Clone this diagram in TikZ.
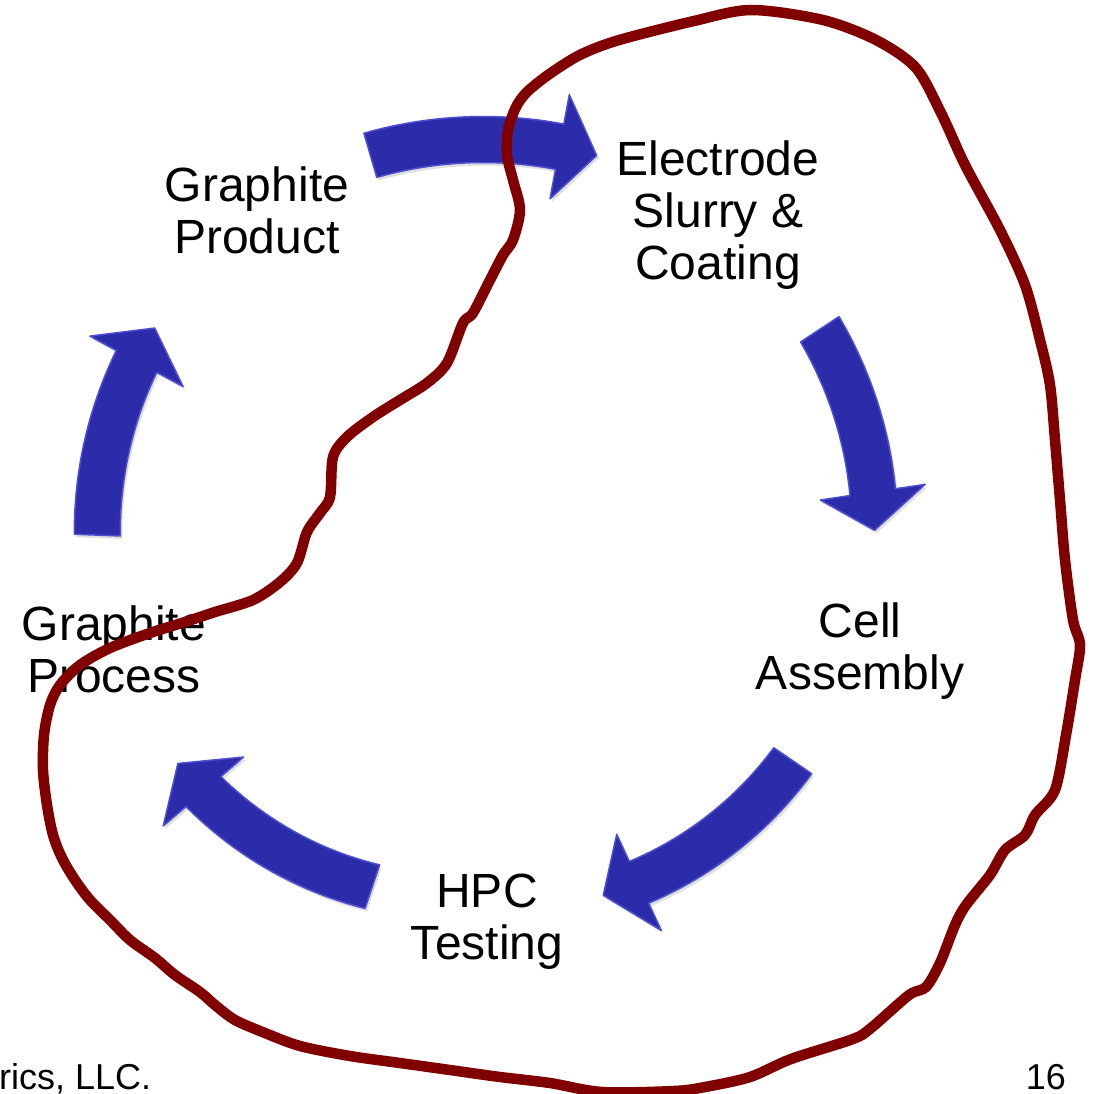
\documentclass[tikz,border=0pt]{standalone}
\usepackage{fontspec}
\setmainfont{Liberation Sans}
\usetikzlibrary{shadows}

\definecolor{arrowblue}{RGB}{44,44,170}
\definecolor{arrowrim}{RGB}{78,78,208}
\definecolor{loopred}{RGB}{128,0,0}

\tikzset{
	stagelabel/.style={align=center, font=\fontsize{48}{52}\selectfont, inner sep=0pt},
	footlabel/.style={font=\fontsize{36}{40}\selectfont, inner sep=0pt},
	ringarrow/.style={fill=arrowblue, draw=arrowrim, line width=1.5pt, line join=round,
		drop shadow={opacity=0.25, shadow xshift=2pt, shadow yshift=-3pt}},
	loopline/.style={draw=loopred, line width=10.5pt, line join=round, line cap=round}
}

% curved block arrow on the ring: tail angle, tip angle, tail radius, tip radius
\newcommand\cyclearrow[4]{%
	\pgfmathsetmacro\arrTa{#1}
	\pgfmathsetmacro\arrPa{#2}
	\pgfmathsetmacro\arrTr{#3}
	\pgfmathsetmacro\arrPr{#4}
	\pgfmathsetmacro\arrBa{\arrPa+38/\arrPr*180/pi}
	\pgfmathsetmacro\arrBr{\arrTr+(\arrPr-\arrTr)*(\arrBa-\arrTa)/(\arrPa-\arrTa)}
	\path[ringarrow]
		plot[domain=0:1, samples=24] ({\arrTa+(\arrBa-\arrTa)*\x}:{\arrTr+(\arrBr-\arrTr)*\x+23})
		-- (\arrBa:{\arrBr+53}) -- (\arrPa:\arrPr) -- (\arrBa:{\arrBr-53})
		-- plot[domain=0:1, samples=24] ({\arrBa+(\arrTa-\arrBa)*\x}:{\arrBr+(\arrTr-\arrBr)*\x-23})
		-- cycle;
}

\begin{document}
\begin{tikzpicture}[x=1pt, y=1pt]
	\useasboundingbox (0,0) rectangle (1094,-1094);
	\fill[white] (0,0) rectangle (1094,-1094);
	
	% stages
	\node[stagelabel] (product) at (257,-210) {Graphite\\Product};
	\node[stagelabel] (slurry) at (718,-215) {Electrode\\Slurry \&\\Coating};
	\node[stagelabel] (cell) at (860,-651) {Cell\\Assembly};
	\node[stagelabel] (testing) at (487,-922) {HPC\\Testing};
	\node[stagelabel] (process) at (114,-649) {Graphite\\Process};
	
	\node[footlabel, anchor=base west] (credit) at (-1,-1089) {rics, LLC.};
	\node[footlabel, anchor=base east] (pageno) at (1066,-1089) {16};
	
	% arrows round the cycle
	\begin{scope}[shift={(485,-550)}]
		\cyclearrow{106.2}{74.2}{411}{410}
		\cyclearrow{33.4}{2.9}{401}{390}
		\cyclearrow{-34.4}{-71.1}{373}{365}
		\cyclearrow{-108.5}{-145.2}{355}{374}
		\cyclearrow{177.8}{146.1}{388}{398}
	\end{scope}
	
	% hand drawn loop
	\draw[loopline] plot[smooth cycle, tension=0.5] coordinates {
		(751,-10) (823,-20) (876,-40) (916,-68) (942,-115) (965,-165) (1000,-230)
		(1025,-285) (1040,-340) (1050,-385) (1055,-440) (1060,-500) (1065,-560)
		(1073,-620) (1080,-645) (1075,-680) (1066,-735) (1055,-790) (1035,-815)
		(1025,-835) (1005,-850) (990,-875) (966,-905) (955,-925) (940,-963)
		(926,-987) (909,-995) (871,-1028) (853,-1039) (791,-1059) (750,-1077)
		(705,-1087) (674,-1091) (602,-1092) (550,-1083) (500,-1077) (450,-1070)
		(400,-1063) (350,-1056) (300,-1046) (265,-1033) (235,-1020) (215,-1005)
		(200,-992) (175,-975) (155,-958) (130,-940) (110,-920) (90,-900) (75,-880)
		(62,-858) (53,-835) (47,-805) (43,-770) (44,-735) (50,-705) (60,-685)
		(80,-665) (110,-648) (150,-633) (185,-622) (215,-612) (253,-600) (280,-582)
		(297,-563) (307,-532) (320,-513) (330,-497) (333,-457) (347,-437) (373,-417)
		(400,-400) (427,-383) (447,-363) (463,-323) (473,-313) (490,-280) (503,-255)
		(513,-240) (520,-210) (513,-180) (507,-155) (508,-130) (516,-107) (527,-92)
		(548,-75) (576,-57) (601,-46) (630,-37) (694,-21)
	};
\end{tikzpicture}
\end{document}
